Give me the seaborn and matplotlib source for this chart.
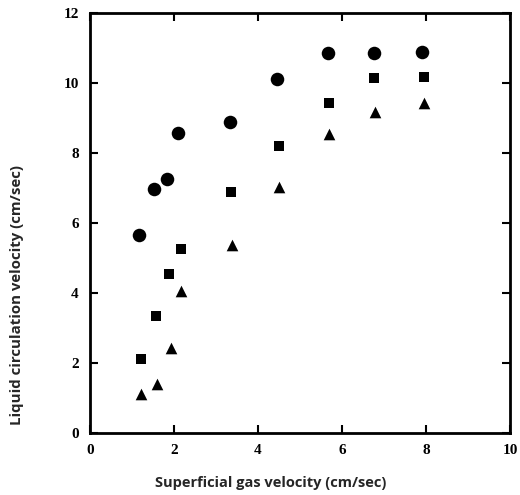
import numpy as np
import pandas as pd
import matplotlib
matplotlib.use("Agg")
import matplotlib.pyplot as plt
import seaborn as sns

# Superficial gas velocity (cm/sec) and liquid circulation velocity (cm/sec)
gas_circle = [1.16, 1.52, 1.84, 2.10, 3.33, 4.46, 5.66, 6.76, 7.90]
liq_circle = [5.66, 6.97, 7.25, 8.58, 8.89, 10.11, 10.85, 10.85, 10.88]

gas_square = [1.21, 1.57, 1.89, 2.16, 3.36, 4.50, 5.68, 6.77, 7.94]
liq_square = [2.11, 3.34, 4.54, 5.25, 6.88, 8.21, 9.44, 10.15, 10.17]

gas_triangle = [1.21, 1.59, 1.93, 2.17, 3.39, 4.50, 5.70, 6.79, 7.94]
liq_triangle = [1.13, 1.41, 2.42, 4.07, 5.38, 7.04, 8.53, 9.16, 9.42]

x_ticks = [0, 2, 4, 6, 8, 10]
y_ticks = [0, 2, 4, 6, 8, 10, 12]

df = pd.DataFrame({
    "gas": gas_circle + gas_square + gas_triangle,
    "liquid": liq_circle + liq_square + liq_triangle,
    "series": ["a"] * len(gas_circle) + ["b"] * len(gas_square) + ["c"] * len(gas_triangle),
})

sns.set_theme(style="ticks")
plt.rcParams["font.family"] = ["Liberation Serif", "DejaVu Serif"]

fig = plt.figure(figsize=(5.2, 4.95), dpi=100)
ax = fig.add_axes([0.173, 0.125, 0.808, 0.849])

marker_map = {"a": "o", "b": "s", "c": "^"}
size_map = {"a": 95, "b": 60, "c": 70}
for key, sub in df.groupby("series"):
    sns.scatterplot(data=sub, x="gas", y="liquid", marker=marker_map[key],
                    s=size_map[key], color="black", edgecolor="black",
                    linewidth=0, ax=ax, legend=False)

ax.set_xlim(0, 10)
ax.set_ylim(0, 12)
ax.set_xticks(x_ticks)
ax.set_yticks(y_ticks)
ax.set_xticklabels([str(t) for t in x_ticks], fontweight="bold", fontsize=11)
ax.set_yticklabels([str(t) for t in y_ticks], fontweight="bold", fontsize=11)
ax.tick_params(direction="in", length=6, width=1.5, top=True, right=True,
               labeltop=False, labelright=False, pad=8, colors="black")

for sp in ax.spines.values():
    sp.set_linewidth(2)
    sp.set_color("black")

ax.set_xlabel("Superficial gas velocity (cm/sec)", fontsize=10.5, fontweight="bold",
              family=["Open Sans", "DejaVu Sans"])
ax.set_ylabel("Liquid circulation velocity (cm/sec)", fontsize=10.8, fontweight="bold",
              family=["Open Sans", "DejaVu Sans"])
ax.xaxis.set_label_coords(0.43, -0.103)
ax.yaxis.set_label_coords(-0.158, 0.329)

fig.savefig("out.png", dpi=100, facecolor="white")
